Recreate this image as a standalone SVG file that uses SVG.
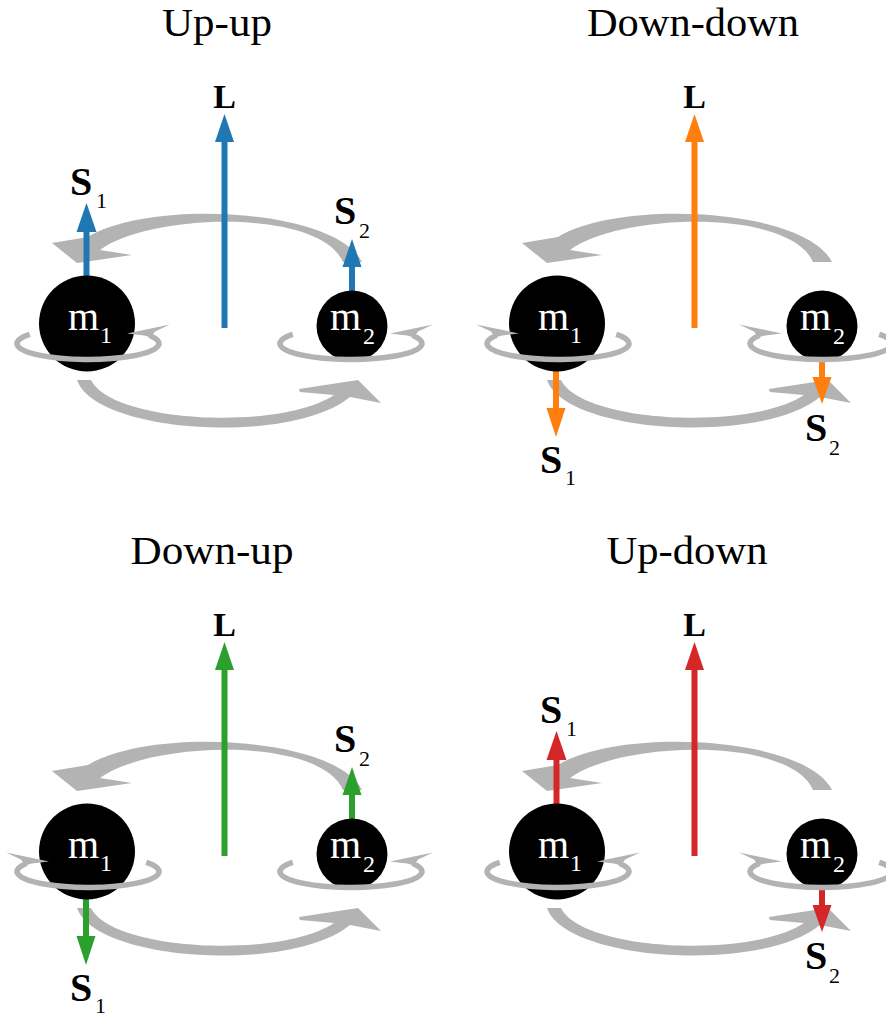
<svg xmlns="http://www.w3.org/2000/svg" xmlns:xlink="http://www.w3.org/1999/xlink" width="886" height="1019" viewBox="0 0 886 1019">
  <style>
    .title { font-family: "Liberation Serif", "Times New Roman", serif; font-size: 40px; fill: #000; text-anchor: middle; }
    .vec { font-family: "Liberation Serif", "Times New Roman", serif; font-weight: bold; font-size: 40px; fill: #000; }
    .lvec { font-family: "Liberation Serif", "Times New Roman", serif; font-weight: bold; font-size: 34px; fill: #000; text-anchor: middle; }
    .sub { font-family: "Liberation Serif", "Times New Roman", serif; font-size: 22px; fill: #000; }
    .mass { font-family: "Liberation Serif", "Times New Roman", serif; font-size: 40px; fill: #fff; }
    .msub { font-family: "Liberation Serif", "Times New Roman", serif; font-size: 24px; fill: #fff; }
    .orb { fill: #b3b3b3; }
    .ring { fill: none; stroke: #b3b3b3; stroke-width: 5.5; }
    .ringhead { fill: #b3b3b3; }
    .ball { fill: #000; }
    .shaft { stroke: currentColor; stroke-width: 6; fill: none; }
    .head { fill: currentColor; stroke: none; }
  </style>
  <defs>
    <!-- orbital motion: back arc (thin) and front arc (thick), both with flattened heads -->
    <g id="orbit">
      <path class="orb" d="M 362 262 C 335 208, 150 199, 88 237 L 52 243 L 77 263 L 132 255 L 100 250 C 150 213, 320 208, 343 262 Z"/>
      <path class="orb" d="M 77 380 C 95 433, 290 446, 350 397 L 381 403 L 358 380 L 299 389 L 300 392 L 334 395 C 280 431, 112 423, 91 380 Z"/>
    </g>
    <!-- spin ring around a body, centred at the origin, head at upper right -->
    <g id="spin">
      <path class="ring" d="M -58.2 -9.2 A 71 16 0 1 0 61.5 -8"/>
      <polygon class="ringhead" points="39,-10 82,-19 67,-12 63,-6 56,-8"/>
    </g>
    <!-- vector arrows in local panel coordinates -->
    <g id="arrowL">
      <line class="shaft" x1="224.5" y1="328" x2="224.5" y2="140"/>
      <polygon class="head" points="215,142 224.5,114 234,142"/>
    </g>
    <g id="s1up">
      <line class="shaft" x1="86.5" y1="324" x2="86.5" y2="230"/>
      <polygon class="head" points="76.5,232 86.5,203 96.5,232"/>
    </g>
    <g id="s2up">
      <line class="shaft" x1="352" y1="326" x2="352" y2="265"/>
      <polygon class="head" points="342.5,267 352,239 361.5,267"/>
    </g>
    <g id="s1down">
      <line class="shaft" x1="86" y1="324" x2="86" y2="410"/>
      <polygon class="head" points="76.5,408 86,437 95.5,408"/>
    </g>
    <g id="s2down">
      <line class="shaft" x1="352" y1="326" x2="352" y2="379"/>
      <polygon class="head" points="342.5,377 352,404 361.5,377"/>
    </g>
    <!-- labels -->
    <g id="labL"><text class="lvec" x="224.5" y="108">L</text></g>
    <g id="labS1up"><text class="vec" x="70" y="195">S</text><text class="sub" x="96" y="208">1</text></g>
    <g id="labS2up"><text class="vec" x="334" y="224">S</text><text class="sub" x="359" y="238">2</text></g>
    <g id="labS1down"><text class="vec" x="70" y="473">S</text><text class="sub" x="95" y="485">1</text></g>
    <g id="labS2down"><text class="vec" x="335" y="441">S</text><text class="sub" x="359" y="455">2</text></g>
    <!-- bodies -->
    <g id="body1">
      <circle class="ball" cx="87" cy="323.5" r="48"/>
      <text class="mass" x="68" y="330">m</text><text class="msub" x="100" y="343">1</text>
    </g>
    <g id="body2">
      <circle class="ball" cx="352" cy="326" r="35.5"/>
      <text class="mass" x="330" y="330">m</text><text class="msub" x="363" y="344">2</text>
    </g>
  </defs>

  <!-- Up-up -->
  <g id="panel-up-up">
    <text class="title" x="217" y="36" textLength="110" lengthAdjust="spacingAndGlyphs">Up-up</text>
    <g id="up-up-connectors" style="color:#1f77b4">
      <use xlink:href="#orbit"/>
      <use xlink:href="#s1up"/>
      <use xlink:href="#s2up"/>
      <use xlink:href="#arrowL"/>
      <use xlink:href="#labL"/><use xlink:href="#labS1up"/><use xlink:href="#labS2up"/>
    </g>
    <g id="up-up-m1"><use xlink:href="#body1"/><use xlink:href="#spin" transform="translate(88,343.5)"/></g>
    <g id="up-up-m2"><use xlink:href="#body2"/><use xlink:href="#spin" transform="translate(351,343.5)"/></g>
  </g>

  <!-- Down-down -->
  <g id="panel-down-down" transform="translate(470,0)">
    <text class="title" x="223" y="36" textLength="212" lengthAdjust="spacingAndGlyphs">Down-down</text>
    <g id="down-down-connectors" style="color:#ff7f0e">
      <use xlink:href="#orbit"/>
      <use xlink:href="#s1down"/>
      <use xlink:href="#s2down"/>
      <use xlink:href="#arrowL"/>
      <use xlink:href="#labL"/><use xlink:href="#labS1down"/><use xlink:href="#labS2down"/>
    </g>
    <g id="down-down-m1"><use xlink:href="#body1"/><use xlink:href="#spin" transform="translate(88,343.5) scale(-1,1)"/></g>
    <g id="down-down-m2"><use xlink:href="#body2"/><use xlink:href="#spin" transform="translate(351,343.5) scale(-1,1)"/></g>
  </g>

  <!-- Down-up -->
  <g id="panel-down-up" transform="translate(0,528)">
    <text class="title" x="212" y="36" textLength="163" lengthAdjust="spacingAndGlyphs">Down-up</text>
    <g id="down-up-connectors" style="color:#2ca02c">
      <use xlink:href="#orbit"/>
      <use xlink:href="#s1down"/>
      <use xlink:href="#s2up"/>
      <use xlink:href="#arrowL"/>
      <use xlink:href="#labL"/><use xlink:href="#labS1down"/><use xlink:href="#labS2up"/>
    </g>
    <g id="down-up-m1"><use xlink:href="#body1"/><use xlink:href="#spin" transform="translate(88,343.5) scale(-1,1)"/></g>
    <g id="down-up-m2"><use xlink:href="#body2"/><use xlink:href="#spin" transform="translate(351,343.5)"/></g>
  </g>

  <!-- Up-down -->
  <g id="panel-up-down" transform="translate(470,528)">
    <text class="title" x="217" y="36" textLength="161" lengthAdjust="spacingAndGlyphs">Up-down</text>
    <g id="up-down-connectors" style="color:#d62728">
      <use xlink:href="#orbit"/>
      <use xlink:href="#s1up"/>
      <use xlink:href="#s2down"/>
      <use xlink:href="#arrowL"/>
      <use xlink:href="#labL"/><use xlink:href="#labS1up"/><use xlink:href="#labS2down"/>
    </g>
    <g id="up-down-m1"><use xlink:href="#body1"/><use xlink:href="#spin" transform="translate(88,343.5)"/></g>
    <g id="up-down-m2"><use xlink:href="#body2"/><use xlink:href="#spin" transform="translate(351,343.5) scale(-1,1)"/></g>
  </g>
</svg>
